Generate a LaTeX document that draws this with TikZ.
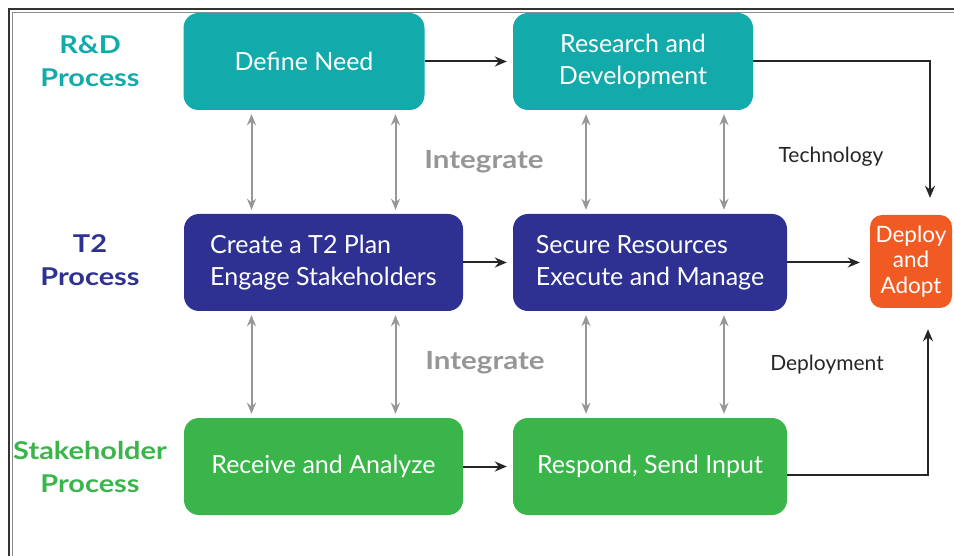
\documentclass[tikz,border=0pt]{standalone}
\usepackage{fontspec}
\setmainfont{Lato}
\newfontfamily\widefont{Lato}[FakeStretch=1.18]
\usetikzlibrary{arrows.meta}
\definecolor{rdteal}{RGB}{18,170,170}
\definecolor{tnavy}{RGB}{46,49,146}
\definecolor{sgreen}{RGB}{57,181,74}
\definecolor{dorange}{RGB}{241,90,34}
\definecolor{agray}{RGB}{150,150,155}
\definecolor{igray}{RGB}{150,150,150}
\tikzset{
  box/.style={rounded corners=15pt, minimum height=97pt, inner sep=0pt, text=white,
    font=\fontsize{25}{32}\selectfont, align=center},
  lab/.style={font=\widefont\bfseries\fontsize{24.5}{33}\selectfont, align=center},
  intlab/.style={font=\widefont\bfseries\fontsize{25}{28}\selectfont, text=igray},
  flowlab/.style={font=\fontsize{21}{24}\selectfont, text=black!85},
  barrow/.style={draw=black!85, line width=2pt, -{Stealth[length=12pt,width=10pt]}},
  garrow/.style={draw=agray, line width=2pt, {Stealth[length=11pt,width=9pt]}-{Stealth[length=11pt,width=9pt]},
    shorten >=4pt, shorten <=4pt}
}
\begin{document}
\begin{tikzpicture}[x=1pt,y=-1pt]
\useasboundingbox (0,0) rectangle (954,556);
\fill[white] (0,0) rectangle (954,556);
% frame
\draw[line width=1.3pt, black!80] (9,556) -- (9,9) -- (954,9);
\draw[line width=1.3pt, black!45] (12.5,556) -- (12.5,12.5) -- (954,12.5);

% boxes
\node[box, fill=rdteal, minimum width=241pt] (dn) at (304,61.5) {Define Need};
\node[box, fill=rdteal, minimum width=240pt] (rd) at (633,61.5) {Research and\\Development};
\node[box, fill=tnavy, minimum width=279pt, align=left] (cr) at (323.5,262.5) {Create a T2 Plan\\Engage Stakeholders};
\node[box, fill=tnavy, minimum width=274pt, align=left] (sr) at (650,262.5) {Secure Resources\\Execute and Manage};
\node[box, fill=dorange, minimum width=82pt, minimum height=93pt, rounded corners=12pt,
  font=\fontsize{22.5}{25.5}\selectfont] (dp) at (911,261.5) {Deploy\\and\\Adopt};
\node[box, fill=sgreen, minimum width=279pt] (rc) at (323.5,466.5) {Receive and Analyze};
\node[box, fill=sgreen, minimum width=274pt] (rp) at (650,466.5) {Respond, Send Input};

% row labels
\node[lab, text=rdteal] (l1) at (90,61) {R\&D\\Process};
\node[lab, text=tnavy] (l2) at (90,260) {T2\\Process};
\node[lab, text=sgreen] (l3) at (90,467) {Stakeholder\\Process};

% other labels
\node[intlab] (i1) at (484,162) {Integrate};
\node[intlab] (i2) at (485,363) {Integrate};
\node[flowlab] (tech) at (831,157) {Technology};
\node[flowlab] (depl) at (827,365) {Deployment};

% helper coordinates
\coordinate (a1) at ([xshift=-72pt]cr.north);
\coordinate (a2) at ([xshift=72pt]cr.north);
\coordinate (a3) at ([xshift=-64pt]sr.north);
\coordinate (a4) at ([xshift=74pt]sr.north);
\coordinate (b1) at ([xshift=-72pt]rc.north);
\coordinate (b2) at ([xshift=72pt]rc.north);
\coordinate (b3) at ([xshift=-64pt]rp.north);
\coordinate (b4) at ([xshift=74pt]rp.north);
\coordinate (t1) at ([xshift=19pt]dp.north);
\coordinate (t2) at ([xshift=17pt]dp.south);

% gray integration arrows
\draw[garrow] (dn.south -| a1) -- (a1);
\draw[garrow] (dn.south -| a2) -- (a2);
\draw[garrow] (rd.south -| a3) -- (a3);
\draw[garrow] (rd.south -| a4) -- (a4);
\draw[garrow] (cr.south -| b1) -- (b1);
\draw[garrow] (cr.south -| b2) -- (b2);
\draw[garrow] (sr.south -| b3) -- (b3);
\draw[garrow] (sr.south -| b4) -- (b4);

% black flow arrows
\draw[barrow, shorten >=6pt] (dn.east) -- (rd.west);
\draw[barrow, shorten >=6pt] (cr.east) -- (sr.west);
\draw[barrow, shorten >=6pt] (rc.east) -- (rp.west);
\draw[barrow, shorten >=10pt] (sr.east) -- (dp.west |- sr.east);
\draw[barrow, shorten >=17pt] (rd.east) -| (t1);
\draw[barrow, shorten >=21pt] ([yshift=-8.5pt]rp.east) -| (t2);
\end{tikzpicture}
\end{document}
